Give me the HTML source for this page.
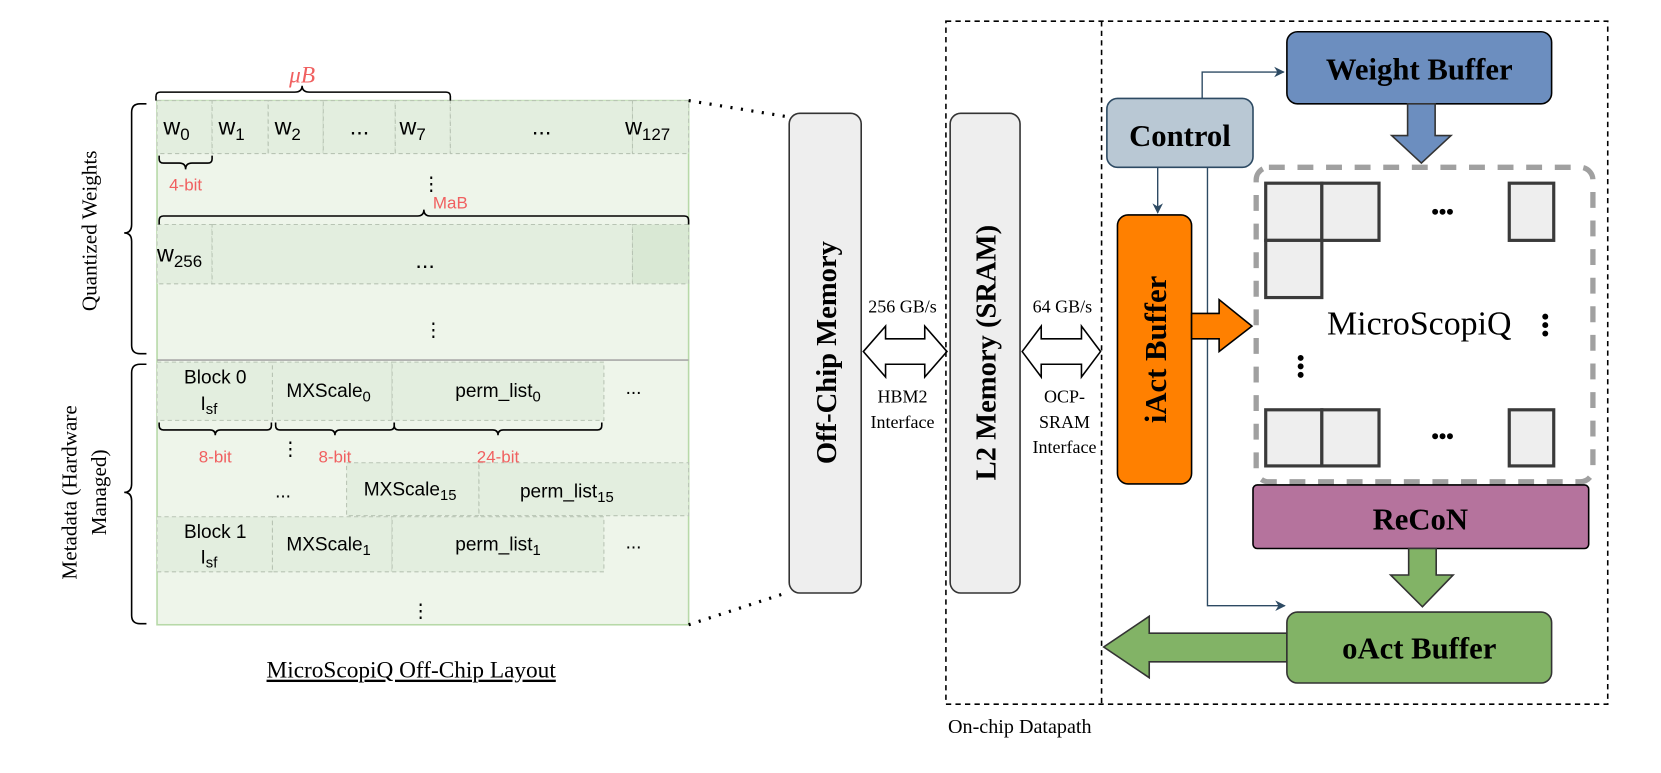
<!DOCTYPE html>
<html><head><meta charset="utf-8"><style>
html,body{margin:0;padding:0;background:#fff;}
svg{display:block;}
.s{font-family:"Liberation Sans",sans-serif;}
.r{font-family:"Liberation Serif",serif;}
</style></head><body>
<svg width="1661" height="773" viewBox="0 0 1568 730" xmlns="http://www.w3.org/2000/svg">
<defs>
<marker id="ah" markerWidth="10" markerHeight="10" refX="9" refY="5" orient="auto" markerUnits="userSpaceOnUse">
<path d="M0,0 L10,5 L0,10 L3,5 z" fill="#2d4a63"/></marker>
</defs>
<rect x="148" y="95" width="502" height="495" fill="#eef5ea" stroke="#b7d9a8" stroke-width="1.5"/>
<g stroke="#b8c4b4" stroke-dasharray="4,3" stroke-width="1" fill="#e3eedf">
<rect x="148" y="95" width="52" height="50"/><rect x="200" y="95" width="53" height="50"/><rect x="253" y="95" width="52" height="50"/><rect x="305" y="95" width="68" height="50"/><rect x="373" y="95" width="52" height="50"/><rect x="425" y="95" width="172" height="50"/><rect x="597" y="95" width="53" height="50"/>
<rect x="148" y="212" width="52" height="56"/><rect x="200" y="212" width="397" height="56"/><rect x="597" y="212" width="53" height="56" fill="#d9e8d4"/>
<rect x="148" y="342" width="109" height="55"/><rect x="257" y="342" width="113" height="55"/><rect x="370" y="342" width="200" height="55"/>
<rect x="327" y="437" width="125" height="50"/><rect x="452" y="437" width="198" height="50"/>
<rect x="148" y="488" width="109" height="52"/><rect x="257" y="488" width="113" height="52"/><rect x="370" y="488" width="200" height="52"/>
</g>
<line x1="148" y1="340" x2="650" y2="340" stroke="#a8a8a8" stroke-width="1.5"/>
<g class="s" font-size="22" fill="#000">
<text x="154" y="127">w<tspan font-size="16" dy="5">0</tspan></text>
<text x="206" y="127">w<tspan font-size="16" dy="5">1</tspan></text>
<text x="259" y="127">w<tspan font-size="16" dy="5">2</tspan></text>
<text x="330" y="127">...</text>
<text x="377" y="127">w<tspan font-size="16" dy="5">7</tspan></text>
<text x="502" y="127">...</text>
<text x="590" y="127">w<tspan font-size="16" dy="5">127</tspan></text>
<text x="148" y="247">w<tspan font-size="16" dy="5">256</tspan></text>
<text x="392" y="253">...</text>
<text x="398" y="180" font-size="18">⋮</text>
<text x="400" y="318" font-size="18">⋮</text>
<text x="265" y="430" font-size="18">⋮</text>
<text x="388" y="583" font-size="18">⋮</text>
</g>
<g class="s" font-size="18" fill="#000" text-anchor="middle">
<text x="203" y="362">Block 0</text><text x="197" y="387">I<tspan font-size="14" dy="4">sf</tspan></text>
<text x="310" y="375">MXScale<tspan font-size="14" dy="4">0</tspan></text>
<text x="470" y="375">perm_list<tspan font-size="14" dy="4">0</tspan></text>
<text x="598" y="372">...</text>
<text x="267" y="470">...</text>
<text x="387" y="468">MXScale<tspan font-size="14" dy="4">15</tspan></text>
<text x="535" y="470">perm_list<tspan font-size="14" dy="4">15</tspan></text>
<text x="203" y="508">Block 1</text><text x="197" y="532">I<tspan font-size="14" dy="4">sf</tspan></text>
<text x="310" y="520">MXScale<tspan font-size="14" dy="4">1</tspan></text>
<text x="470" y="520">perm_list<tspan font-size="14" dy="4">1</tspan></text>
<text x="598" y="518">...</text>
</g>
<g class="s" font-size="16" fill="#f06060" text-anchor="middle">
<text x="175" y="180">4-bit</text><text x="425" y="197">MaB</text>
<text x="203" y="437">8-bit</text><text x="316" y="437">8-bit</text><text x="470" y="437">24-bit</text>
</g>
<text x="285" y="78" class="r" font-style="italic" font-size="22" fill="#f06060" text-anchor="middle">μB</text>
<g fill="none" stroke="#000" stroke-width="1.5">
<path d="M147,95 v-4 q0,-4 4,-4 h127 q7,0 7,-6 q0,6 7,6 h129 q4,0 4,4 v4"/>
<path d="M150,147 v3 q0,4 4,4 h15 q6,0 6,6 q0,-6 6,-6 h15 q4,0 4,-4 v-3"/>
<path d="M150,212 v-4 q0,-4 4,-4 h240 q6,0 6,-6 q0,6 6,6 h240 q4,0 4,4 v4"/>
<path d="M150,399 v3 q0,4 4,4 h44 q5,0 5,5 q0,-5 5,-5 h44 q4,0 4,-4 v-3"/>
<path d="M260,399 v3 q0,4 4,4 h47 q5,0 5,5 q0,-5 5,-5 h47 q4,0 4,-4 v-3"/>
<path d="M372,399 v3 q0,4 4,4 h89 q5,0 5,5 q0,-5 5,-5 h89 q4,0 4,-4 v-3"/>
<path d="M138,98 h-6 q-8,0 -8,8 v106 q0,8 -7,8 q7,0 7,8 v98 q0,8 8,8 h6"/>
<path d="M138,344 h-6 q-8,0 -8,8 v105 q0,8 -7,8 q7,0 7,8 v108 q0,8 8,8 h6"/>
</g>
<text class="r" font-size="20" text-anchor="middle" transform="translate(91,218) rotate(-90)">Quantized Weights</text>
<text class="r" font-size="20" text-anchor="middle" transform="translate(72,465) rotate(-90)">Metadata (Hardware</text>
<text class="r" font-size="20" text-anchor="middle" transform="translate(100,465) rotate(-90)">Managed)</text>
<text x="388" y="640" class="r" font-size="22" text-anchor="middle" text-decoration="underline">MicroScopiQ Off-Chip Layout</text>
<line x1="650" y1="95" x2="742" y2="110" stroke="#000" stroke-width="3" stroke-dasharray="2,8"/>
<line x1="650" y1="590" x2="742" y2="560" stroke="#000" stroke-width="3" stroke-dasharray="2,8"/>
<rect x="745" y="107" width="68" height="453" rx="10" fill="#eeeeee" stroke="#333" stroke-width="1.5"/>
<text class="r" font-size="27" font-weight="bold" text-anchor="middle" transform="translate(789,333) rotate(-90)">Off-Chip Memory</text>
<rect x="897" y="107" width="66" height="453" rx="10" fill="#eeeeee" stroke="#333" stroke-width="1.5"/>
<text class="r" font-size="27" font-weight="bold" text-anchor="middle" transform="translate(940,333) rotate(-90)">L2 Memory (SRAM)</text>
<path d="M815,332 L836,308 V320 H873 V308 L894,332 L873,356 V344 H836 V356 Z" fill="#fff" stroke="#000" stroke-width="1.5"/>
<path d="M965,332 L983,308 V320 H1021 V308 L1039,332 L1021,356 V344 H983 V356 Z" fill="#fff" stroke="#000" stroke-width="1.5"/>
<g class="r" font-size="17" text-anchor="middle">
<text x="852" y="295">256 GB/s</text><text x="852" y="380">HBM2</text><text x="852" y="404">Interface</text>
<text x="1003" y="295">64 GB/s</text><text x="1005" y="380">OCP-</text><text x="1005" y="404">SRAM</text><text x="1005" y="428">Interface</text>
</g>
<rect x="893" y="20" width="625" height="645" fill="none" stroke="#000" stroke-width="1.5" stroke-dasharray="5,4"/>
<line x1="1040" y1="20" x2="1040" y2="665" stroke="#000" stroke-width="1.5" stroke-dasharray="5,4"/>
<text x="895" y="692" class="r" font-size="19">On-chip Datapath</text>
<g fill="none" stroke="#2d4a63" stroke-width="1.3">
<path d="M1135,93 V68 H1212" marker-end="url(#ah)"/>
<path d="M1093,158 V201" marker-end="url(#ah)"/>
<path d="M1140,158 V572 H1213" marker-end="url(#ah)"/>
</g>
<rect x="1045" y="93" width="138" height="65" rx="10" fill="#b9c8d4" stroke="#2d4a63" stroke-width="1.5"/>
<text x="1114" y="138" class="r" font-size="29" font-weight="bold" text-anchor="middle">Control</text>
<rect x="1215" y="30" width="250" height="68" rx="10" fill="#6c8ebf" stroke="#000" stroke-width="1.5"/>
<text x="1340" y="75" class="r" font-size="29" font-weight="bold" text-anchor="middle">Weight Buffer</text>
<path d="M1329,98 H1355 V128 H1370 L1342,154 L1314,128 H1329 Z" fill="#6c8ebf" stroke="#333" stroke-width="1.5"/>
<rect x="1055" y="203" width="70" height="254" rx="10" fill="#ff8000" stroke="#000" stroke-width="1.5"/>
<text class="r" font-size="29" font-weight="bold" text-anchor="middle" transform="translate(1101,330) rotate(-90)">iAct Buffer</text>
<path d="M1125,296 H1151 V283 L1182,308 L1151,332 V320 H1125 Z" fill="#ff8000" stroke="#000" stroke-width="1.5"/>
<rect x="1186" y="158" width="318" height="297" rx="12" fill="none" stroke="#a0a0a0" stroke-width="5" stroke-dasharray="15,12"/>
<g fill="#eeeeee" stroke="#3a3a3a" stroke-width="3">
<rect x="1195" y="173" width="53" height="54"/><rect x="1248" y="173" width="54" height="54"/><rect x="1195" y="227" width="53" height="54"/><rect x="1425" y="173" width="42" height="54"/>
<rect x="1195" y="387" width="53" height="53"/><rect x="1248" y="387" width="54" height="53"/><rect x="1425" y="387" width="42" height="53"/>
</g>
<g fill="#000">
<circle cx="1355" cy="200" r="2.8"/><circle cx="1362" cy="200" r="2.8"/><circle cx="1369" cy="200" r="2.8"/>
<circle cx="1355" cy="412" r="2.8"/><circle cx="1362" cy="412" r="2.8"/><circle cx="1369" cy="412" r="2.8"/>
<circle cx="1459" cy="299" r="2.8"/><circle cx="1459" cy="307" r="2.8"/><circle cx="1459" cy="315" r="2.8"/>
<circle cx="1228" cy="338" r="2.8"/><circle cx="1228" cy="346" r="2.8"/><circle cx="1228" cy="354" r="2.8"/>
</g>
<text x="1340" y="316" class="r" font-size="32" text-anchor="middle">MicroScopiQ</text>
<rect x="1183" y="458" width="317" height="60" rx="4" fill="#b5739d" stroke="#000" stroke-width="1.5"/>
<text x="1341" y="500" class="r" font-size="29" font-weight="bold" text-anchor="middle">ReCoN</text>
<path d="M1330,518 H1356 V543 H1372 L1343,573 L1313,543 H1330 Z" fill="#82b366" stroke="#333" stroke-width="1.5"/>
<path d="M1215,598 H1085 V582 L1042,611 L1085,640 V625 H1215 Z" fill="#82b366" stroke="#333" stroke-width="1.5"/>
<rect x="1215" y="578" width="250" height="67" rx="10" fill="#82b366" stroke="#333" stroke-width="1.5"/>
<text x="1340" y="622" class="r" font-size="29" font-weight="bold" text-anchor="middle">oAct Buffer</text>
</svg>
</body></html>
